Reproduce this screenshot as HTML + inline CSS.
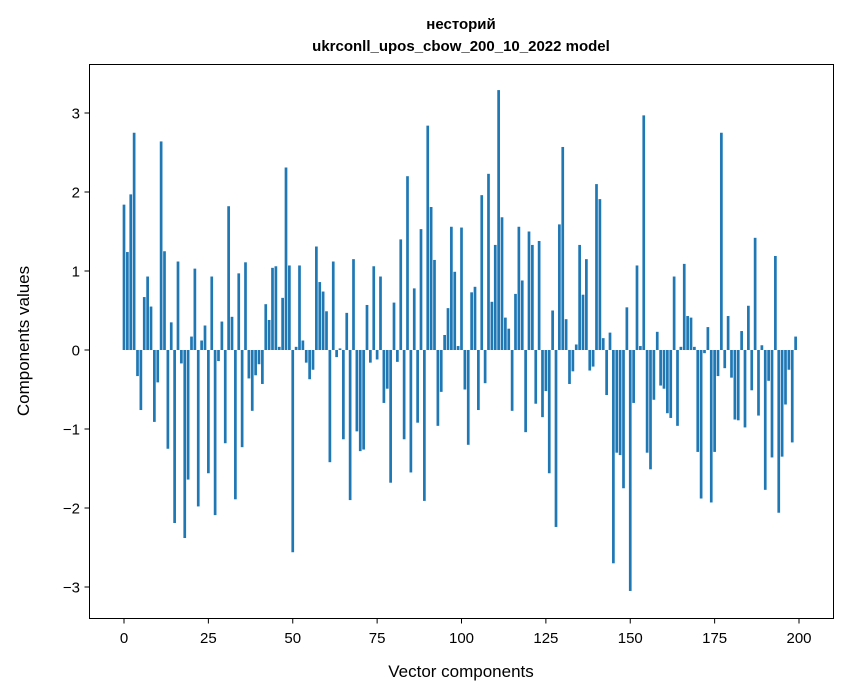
<!DOCTYPE html>
<html><head><meta charset="utf-8"><style>
body{margin:0;background:#fff;}
svg{display:block;font-family:"Liberation Sans","DejaVu Sans",sans-serif;}
</style></head><body>
<svg id="chart" width="847" height="696">
<rect x="0" y="0" width="847" height="696" fill="#fff"/>
<text x="461" y="29" text-anchor="middle" font-size="15" font-weight="bold">несторий</text>
<text x="461" y="51" text-anchor="middle" font-size="15" font-weight="bold">ukrconll_upos_cbow_200_10_2022 model</text>
<g id="bars"></g>
<g id="axes"></g>
<rect x="89.5" y="64.5" width="744" height="554" fill="none" stroke="#000" stroke-width="1"/>
<text x="461" y="677" text-anchor="middle" font-size="17">Vector components</text>
<text transform="translate(29,341) rotate(-90)" text-anchor="middle" font-size="17">Components values</text>
</svg>
<script>
const values = [1.84,1.24,1.97,2.75,-0.33,-0.76,0.67,0.93,0.55,-0.91,-0.41,2.64,1.25,-1.25,0.35,-2.19,1.12,-0.17,-2.38,-1.64,
0.17,1.03,-1.98,0.12,0.31,-1.56,0.93,-2.09,-0.14,0.36,-1.18,1.82,0.42,-1.89,0.97,-1.23,1.11,-0.36,-0.77,-0.32,
-0.18,-0.43,0.58,0.38,1.04,1.06,0.04,0.66,2.31,1.07,-2.56,0.04,1.07,0.12,-0.16,-0.37,-0.25,1.31,0.86,0.74,
0.49,-1.42,1.12,-0.09,0.02,-1.13,0.47,-1.9,1.15,-1.03,-1.28,-1.26,0.57,-0.16,1.06,-0.12,0.93,-0.67,-0.49,-1.68,
0.6,-0.15,1.4,-1.13,2.2,-1.55,0.78,-0.92,1.53,-1.91,2.84,1.81,1.14,-0.96,-0.53,0.19,0.53,1.56,0.99,0.05,
1.55,-0.5,-1.2,0.73,0.8,-0.76,1.96,-0.42,2.23,0.61,1.33,3.29,1.68,0.41,0.27,-0.77,0.71,1.56,0.88,-1.04,
1.5,1.33,-0.68,1.38,-0.85,-0.52,-1.56,0.5,-2.24,1.59,2.57,0.39,-0.43,-0.27,0.07,1.33,0.7,1.15,-0.26,-0.21,
2.1,1.91,0.15,-0.57,0.22,-2.7,-1.3,-1.33,-1.75,0.54,-3.05,-0.67,1.07,0.05,2.97,-1.3,-1.51,-0.63,0.23,-0.45,
-0.49,-0.8,-0.86,0.93,-0.96,0.04,1.09,0.43,0.41,0.04,-1.29,-1.88,-0.04,0.29,-1.93,-1.29,-0.33,2.75,-0.23,0.43,
-0.35,-0.88,-0.89,0.24,-0.98,0.56,-0.51,1.42,-0.83,0.06,-1.77,-0.39,-1.36,1.19,-2.06,-1.35,-0.69,-0.25,-1.17,0.17];
const xTicks = [0,25,50,75,100,125,150,175,200];
const yTicks = [-3,-2,-1,0,1,2,3];
const yTickLabels = ["−3","−2","−1","0","1","2","3"];

const NS="http://www.w3.org/2000/svg";
const xS = v => 124 + v*3.375;
const yS = v => 350 - v*79;
const bars = document.getElementById('bars');
values.forEach((v,i)=>{
  const r=document.createElementNS(NS,'rect');
  const y0=Math.min(yS(0),yS(v)), h=Math.abs(yS(v)-yS(0));
  r.setAttribute('x', xS(i-0.4));
  r.setAttribute('y', y0);
  r.setAttribute('width', 0.8*3.375);
  r.setAttribute('height', Math.max(h,0.5));
  r.setAttribute('fill','#1f77b4');
  
  
  bars.appendChild(r);
});
const axes=document.getElementById('axes');
xTicks.forEach(t=>{
  const l=document.createElementNS(NS,'line');
  l.setAttribute('x1',xS(t));l.setAttribute('x2',xS(t));
  l.setAttribute('y1',618.5);l.setAttribute('y2',623.5);
  l.setAttribute('stroke','#000');
  
  
  axes.appendChild(l);
  const tx=document.createElementNS(NS,'text');
  tx.setAttribute('x',xS(t));tx.setAttribute('y',643);
  tx.setAttribute('text-anchor','middle');tx.setAttribute('font-size','15');
  tx.textContent=t;
  
  
  axes.appendChild(tx);
});
yTicks.forEach((t,i)=>{
  const l=document.createElementNS(NS,'line');
  l.setAttribute('x1',84.5);l.setAttribute('x2',89.5);
  l.setAttribute('y1',yS(t));l.setAttribute('y2',yS(t));
  l.setAttribute('stroke','#000');
  
  
  axes.appendChild(l);
  const tx=document.createElementNS(NS,'text');
  tx.setAttribute('x',80);tx.setAttribute('y',yS(t)+5.5);
  tx.setAttribute('text-anchor','end');tx.setAttribute('font-size','15');
  tx.textContent=yTickLabels[i];
  
  
  axes.appendChild(tx);
});
</script>
</body></html>
